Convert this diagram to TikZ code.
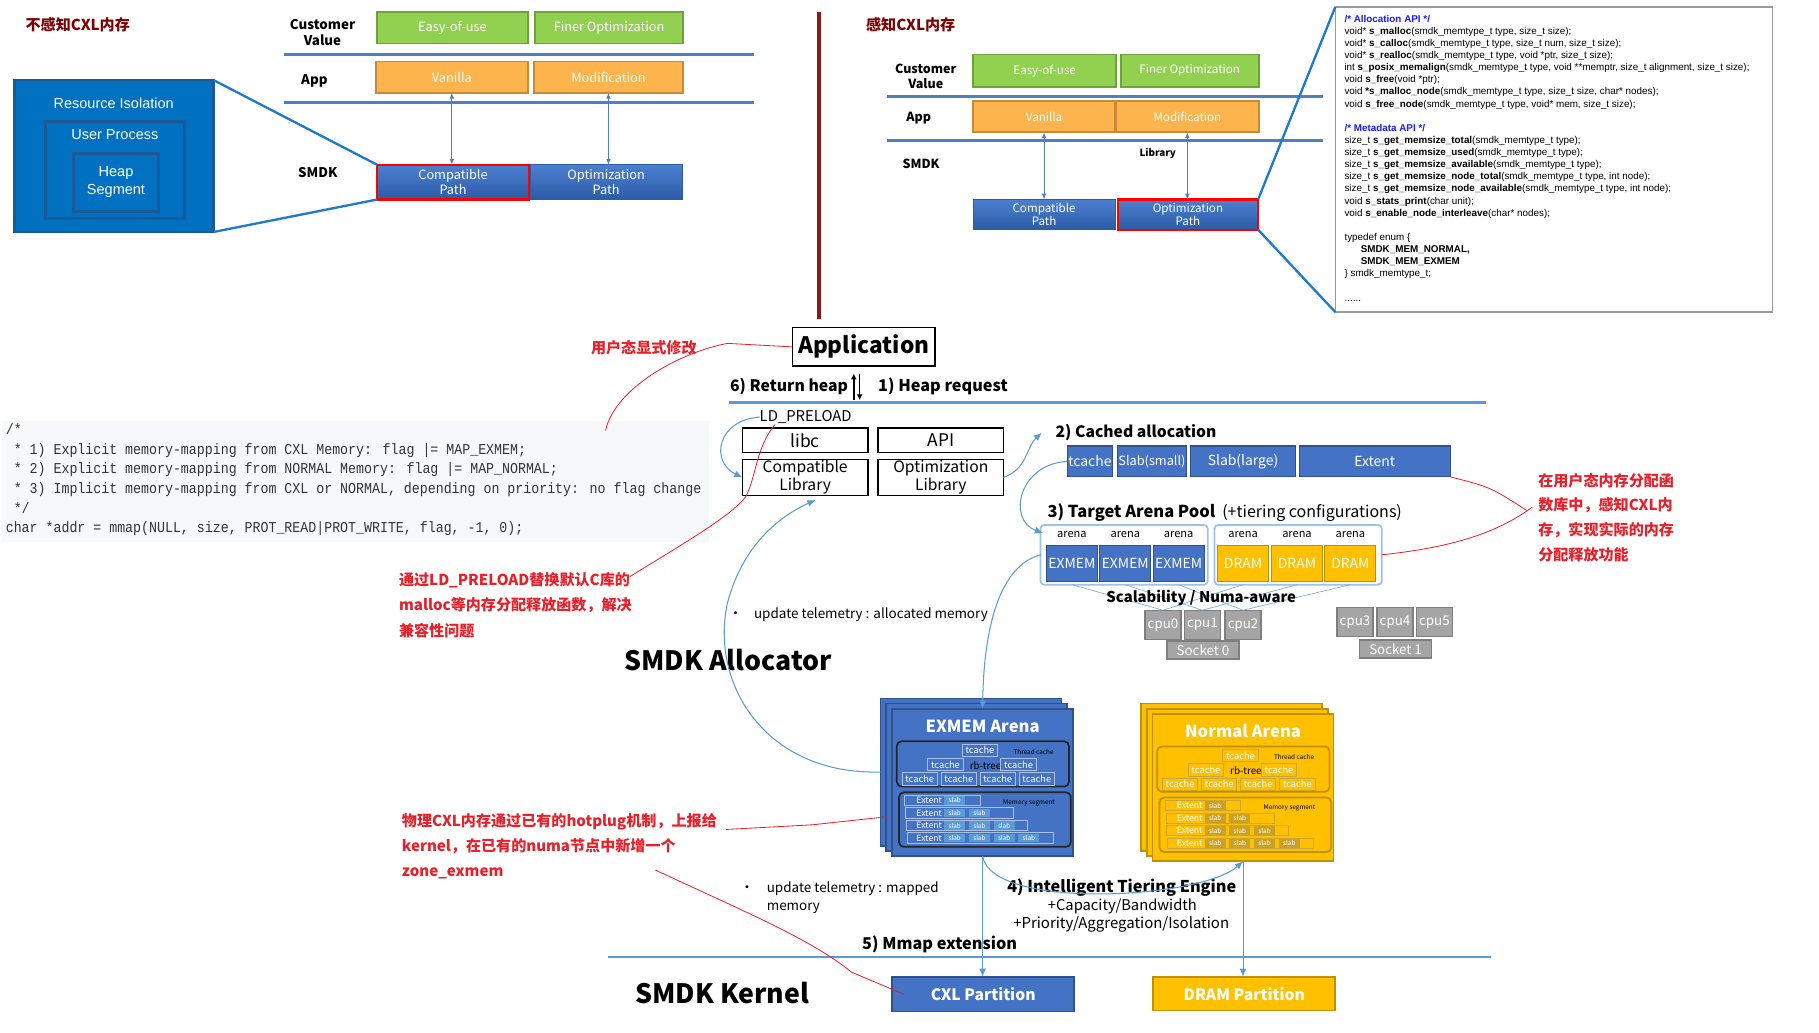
\documentclass[tikz,border=0pt]{standalone}
\usepackage{fontspec}
\setmainfont{Noto Sans CJK SC}
\newfontfamily\arialfont{Liberation Sans}
\newfontfamily\codefont{Liberation Mono}[FakeStretch=0.88]
\usetikzlibrary{positioning,arrows.meta,calc}

\definecolor{cvfill}{HTML}{92D050}
\definecolor{cvline}{HTML}{6EA33C}
\definecolor{appfill}{HTML}{FDB44D}
\definecolor{appline}{HTML}{C98A36}
\definecolor{pathtop}{HTML}{4A80D0}
\definecolor{pathbot}{HTML}{2D5BA6}
\definecolor{isofill}{HTML}{0070C0}
\definecolor{isoline}{HTML}{1B5A99}
\definecolor{sepblue}{HTML}{4F7EC1}
\definecolor{zoomblue}{HTML}{1F7ACF}
\definecolor{titlered}{HTML}{7F0000}
\definecolor{divred}{HTML}{8B1A1A}
\definecolor{annored}{HTML}{E8202A}
\definecolor{apiblue}{HTML}{1A1AFF}
\definecolor{smblue}{HTML}{4472C4}
\definecolor{smblueD}{HTML}{2F528F}
\definecolor{smyel}{HTML}{FFC000}
\definecolor{smyelD}{HTML}{BF9000}
\definecolor{cpugray}{HTML}{A5A5A5}
\definecolor{cpuline}{HTML}{7F7F7F}
\definecolor{flowblue}{HTML}{5B9BD5}
\definecolor{poolline}{HTML}{9DC3E6}
\definecolor{codebg}{HTML}{F6F8FA}
\definecolor{codetext}{HTML}{333333}

\tikzset{
  every node/.style={inner sep=0pt, outer sep=0pt},
  sz/.style 2 args={minimum width=#1pt, minimum height=#2pt},
  cvbox/.style={draw=cvline, fill=cvfill, line width=1.5pt, text=white, font=\fontsize{11}{13}\selectfont},
  appbox/.style={draw=appline, fill=appfill, line width=1.5pt, text=white, font=\fontsize{11}{13}\selectfont},
  pathbox/.style={draw=pathbot, top color=pathtop, bottom color=pathbot, text=white, align=center, font=\fontsize{11}{12.5}\selectfont},
  hotbox/.style={draw=red, line width=2pt},
  layer/.style={font=\bfseries\fontsize{11.5}{13.5}\selectfont, align=center},
  sepline/.style={sepblue, line width=2.5pt},
  zoomline/.style={zoomblue, line width=2pt},
  linkarrow/.style={sepblue, line width=0.8pt, {Latex[length=5pt,width=4pt]}-{Latex[length=5pt,width=4pt]}},
  isobox/.style={draw=isoline, fill=isofill, line width=2.5pt},
  isotext/.style={text=white, font=\arialfont\fontsize{12.5}{15}\selectfont, align=center},
  libbox/.style={draw=black, line width=1.3pt, align=center},
  stagelbl/.style={font=\bfseries\fontsize{14}{16}\selectfont},
  bluebox/.style={fill=smblue, draw=smblueD, line width=1pt, text=white, font=\fontsize{12}{14}\selectfont},
  yelbox/.style={fill=smyel, draw=smyelD, line width=1pt, text=white, font=\fontsize{12}{14}\selectfont},
  cpubox/.style={fill=cpugray, draw=cpuline, line width=1pt, text=white, font=\fontsize{11.5}{13}\selectfont},
  pool/.style={draw=poolline, line width=1.5pt, rounded corners=3pt},
  arenalbl/.style={font=\fontsize{9.5}{11}\selectfont},
  flow/.style={flowblue, line width=0.9pt, -{Latex[length=7pt,width=6pt]}},
  numaline/.style={flowblue!80, line width=0.6pt},
  anno/.style={text=annored, align=left},
  annoline/.style={annored, line width=0.7pt},
  bignm/.style={font=\bfseries\fontsize{23}{27}\selectfont},
  telem/.style={font=\fontsize{11.6}{15.5}\selectfont, align=left},
  arlayer/.style={fill=arfill, draw=arline, line width=1.5pt, sz={156}{127}},
  artitle/.style={text=white, font=\bfseries\fontsize{14.3}{16}\selectfont},
  tcbox/.style={fill=arfill, draw=arlight, line width=0.8pt, text=white, font=\fontsize{8}{9}\selectfont, sz={30.5}{10.5}},
  ingrp/.style={draw=arin, line width=1.5pt, rounded corners=4pt},
  tinytext/.style={font=\fontsize{5.5}{6}\selectfont},
  extrow/.style={fill=arfill, draw=arlight, line width=0.8pt},
  slabbox/.style={fill=arslab, text=white, font=\fontsize{5.5}{6}\selectfont, sz={18}{7.5}},
}

\newcommand{\arenastack}[8]{%
  \begin{scope}[shift={#2}]
    \colorlet{arfill}{#3}\colorlet{arline}{#4}\colorlet{arlight}{#5}\colorlet{arslab}{#6}\colorlet{arin}{#7}
    \node[arlayer] (#1b) at (78,63.5) {};
    \node[arlayer] (#1m) at (83,68) {};
    \node[arlayer] (#1) at (88,72.5) {};
    \node[artitle] (#1t) at (88,24) {#8};
    \node[ingrp, sz={148.5}{39}] (#1tc) at (88.25,56.5) {};
    \node[tinytext] (#1tcl) at (132,46) {Thread cache};
    \node[tcbox] (#1c1) at (85.75,44.75) {tcache};
    \node[tcbox] (#1c2) at (56,57.25) {tcache};
    \node[font=\fontsize{8.5}{10}\selectfont] (#1rb) at (90.5,58) {rb-tree};
    \node[tcbox] (#1c3) at (119,57.25) {tcache};
    \foreach \i/\x in {4/33.75,5/67.5,6/101,7/134.75}
      \node[tcbox] (#1c\i) at (\x,69.5) {tcache};
    \node[ingrp, sz={148}{47}] (#1ms) at (90,104.5) {};
    \node[tinytext] (#1msl) at (128,90) {Memory segment};
    \foreach \k/\e in {1/86,2/115,3/127,4/149} {
      \draw[extrow] (20.3+0.7*\k, 72.7+10.8*\k) rectangle (\e, 81.7+10.8*\k);
      \node[text=white, font=\fontsize{7.5}{8}\selectfont] (#1e\k) at (42, 77.2+10.8*\k) {Extent};
      \foreach \s in {1,...,\k}
        \node[slabbox] (#1s\k\s) at (42.7+21.3*\s, 77.2+10.8*\k) {slab};
    }
  \end{scope}}

\begin{document}
\begin{tikzpicture}[x=1pt,y=-1pt]
\fill[white] (0,0) rectangle (1568,890);
\useasboundingbox (0,0) rectangle (1568,890);

% left panel
\node[font=\bfseries\fontsize{13}{15}\selectfont, text=titlered] (nocxl) at (67,21) {不感知CXL内存};
\node[layer] (cv1) at (278,28) {Customer\\Value};
\node[cvbox, sz={130}{27}] (ease1) at (390,24) {Easy-of-use};
\node[cvbox, sz={128}{27}] (finer1) at (525,24) {Finer Optimization};
\draw[sepline] (245,47) -- (650,47);
\node[layer] (app1) at (271,70) {App};
\node[appbox, sz={131}{27}] (van1) at (389.5,66.5) {Vanilla};
\node[appbox, sz={129}{27}] (mod1) at (524.5,66.5) {Modification};
\draw[sepline] (245,88.5) -- (650,88.5);
\node[layer] (smdk1) at (274,149) {SMDK};
\node[pathbox, hotbox, sz={131}{30}] (cpath1) at (390.5,157) {Compatible\\Path};
\node[pathbox, sz={131}{30}] (opath1) at (522.5,157) {Optimization\\Path};
\draw[linkarrow] (van1.south) -- (van1.south |- cpath1.north);
\draw[linkarrow] (mod1.south) -- (mod1.south |- opath1.north);
\node[isobox, sz={171.5}{131}] (iso) at (98.25,134.5) {};
\node[isobox, sz={120}{83}] (proc) at (99,146.5) {};
\node[isobox, isotext, sz={74}{50}] (heap) at (100,157) {Heap\\Segment};
\node[isotext] (isotitle) at (98,89) {Resource Isolation};
\node[isotext] (proctitle) at (99,116) {User Process};
\draw[zoomline] (iso.north east) -- (cpath1.north west);
\draw[zoomline] (iso.south east) -- (cpath1.south west);

\draw[divred, line width=3pt] (706,10) -- (706,275);

% right panel
\node[font=\bfseries\fontsize{13}{15}\selectfont, text=titlered] (yescxl) at (785,21) {感知CXL内存};
\node[layer, font=\bfseries\fontsize{10.8}{12.5}\selectfont] (cv2) at (798,66) {Customer\\Value};
\node[cvbox, sz={123}{28}, font=\fontsize{10}{12}\selectfont] (ease2) at (900.5,61) {Easy-of-use};
\node[cvbox, sz={119}{28}, font=\fontsize{10}{12}\selectfont] (finer2) at (1025.5,61) {Finer Optimization};
\draw[sepline] (765,83) -- (1140,83);
\node[layer, font=\bfseries\fontsize{10.8}{12.5}\selectfont] (app2) at (792,102) {App};
\node[appbox, sz={122}{27}, font=\fontsize{10}{12}\selectfont] (van2) at (900,100.5) {Vanilla};
\node[appbox, sz={123}{27}, font=\fontsize{10}{12}\selectfont] (mod2) at (1023.5,100.5) {Modification};
\draw[sepline] (765,121) -- (1140,121);
\node[layer, font=\bfseries\fontsize{10.8}{12.5}\selectfont] (smdk2) at (794,141) {SMDK};
\node[font=\bfseries\fontsize{8.5}{10}\selectfont] (lib2) at (998,132) {Library};
\node[pathbox, sz={122}{26}, font=\fontsize{10}{11}\selectfont] (cpath2) at (900,185) {Compatible\\Path};
\node[pathbox, hotbox, sz={121}{26}, font=\fontsize{10}{11}\selectfont] (opath2) at (1024,185) {Optimization\\Path};
\draw[linkarrow] (van2.south) -- (van2.south |- cpath2.north);
\draw[linkarrow] (mod2.south) -- (mod2.south |- opath2.north);
\node[draw=gray!80, line width=1pt, sz={377}{263}, anchor=north west] (apibox) at (1151,6) {};
\draw[zoomline] (opath2.north east) -- (apibox.north west);
\draw[zoomline] (opath2.south east) -- (apibox.south west);
\node[anchor=north west, align=left, font=\arialfont\fontsize{8.5}{10.45}\selectfont] (apitext) at (1159,13) {%
\textcolor{apiblue}{\bfseries /* Allocation API */}\\
void* \textbf{s\_malloc}(smdk\_memtype\_t type, size\_t size);\\
void* \textbf{s\_calloc}(smdk\_memtype\_t type, size\_t num, size\_t size);\\
void* \textbf{s\_realloc}(smdk\_memtype\_t type, void *ptr, size\_t size);\\
int \textbf{s\_posix\_memalign}(smdk\_memtype\_t type, void **memptr, size\_t alignment, size\_t size);\\
void \textbf{s\_free}(void *ptr);\\
void \textbf{*s\_malloc\_node}(smdk\_memtype\_t type, size\_t size, char* nodes);\\
void \textbf{s\_free\_node}(smdk\_memtype\_t type, void* mem, size\_t size);\\[10.45pt]
\textcolor{apiblue}{\bfseries /* Metadata API */}\\
size\_t \textbf{s\_get\_memsize\_total}(smdk\_memtype\_t type);\\
size\_t \textbf{s\_get\_memsize\_used}(smdk\_memtype\_t type);\\
size\_t \textbf{s\_get\_memsize\_available}(smdk\_memtype\_t type);\\
size\_t \textbf{s\_get\_memsize\_node\_total}(smdk\_memtype\_t type, int node);\\
size\_t \textbf{s\_get\_memsize\_node\_available}(smdk\_memtype\_t type, int node);\\
void \textbf{s\_stats\_print}(char unit);\\
void \textbf{s\_enable\_node\_interleave}(char* nodes);\\[10.45pt]
typedef enum \{\\
\hspace*{14pt}\textbf{SMDK\_MEM\_NORMAL,}\\
\hspace*{14pt}\textbf{SMDK\_MEM\_EXMEM}\\
\} smdk\_memtype\_t;\\[10.45pt]
......};

% allocator
\node[libbox, sz={123}{33}, font=\bfseries\fontsize{19.5}{22}\selectfont] (app) at (744.5,299) {Application};
\node[stagelbl, font=\bfseries\fontsize{13.6}{16}\selectfont, anchor=east] (ret) at (731,333) {6) Return heap};
\node[stagelbl, anchor=west] (req) at (757,333) {1) Heap request};
\draw[line width=1.5pt, -{Latex[length=5pt,width=5pt]}] ($(ret.east)+(5,12)$) -- ++(0,-23);
\draw[line width=1.5pt, -{Latex[length=5pt,width=5pt]}] ($(ret.east)+(10,-11)$) -- ++(0,23);
\draw[flowblue, line width=2pt] (628,347) -- (1281,347);
\node[font=\fontsize{12.8}{15}\selectfont] (ldp) at (694.5,359.5) {LD\_PRELOAD};
\node[libbox, sz={108}{21}, font=\fontsize{15}{17}\selectfont] (libc) at (694,379.5) {libc};
\node[libbox, sz={108}{21}, font=\fontsize{15}{17}\selectfont] (api) at (811,379.5) {API};
\node[libbox, sz={108}{31}, font=\fontsize{13.5}{15.5}\selectfont] (complib) at (694,411.5) {Compatible\\Library};
\node[libbox, sz={108}{31}, font=\fontsize{13.5}{15.5}\selectfont] (optlib) at (811,411.5) {Optimization\\Library};

\node[stagelbl, font=\bfseries\fontsize{13.5}{16}\selectfont, anchor=west] (cached) at (910,373) {2) Cached allocation};
\node[bluebox, sz={39}{26.5}] (tcache) at (939.5,397.75) {tcache};
\node[bluebox, sz={60}{26.5}, font=\fontsize{11}{13}\selectfont] (slabsm) at (993,397.75) {Slab(small)};
\node[bluebox, sz={91}{26.5}] (slablg) at (1071.5,397.75) {Slab(large)};
\node[bluebox, sz={130}{26.5}] (extent) at (1185,397.75) {Extent};

\node[stagelbl, font=\bfseries\fontsize{14.2}{16}\selectfont, anchor=west] (tap) at (903,442) {3) Target Arena Pool};
\node[anchor=base west, font=\fontsize{13.8}{16}\selectfont] (tierc) at ($(tap.base east)+(6,0)$) {(+tiering configurations)};
\node[pool, sz={144}{51.5}] (poolx) at (969,478.25) {};
\node[pool, sz={144}{51.5}] (poold) at (1119,478.25) {};
\foreach \i/\x in {1/924,2/970,3/1016} {
  \node[arenalbl] (lx\i) at (\x,461) {arena};
  \node[bluebox, sz={44}{31}] (ex\i) at (\x,485.5) {EXMEM};
}
\foreach \i/\x in {1/1071.5,2/1118,3/1164} {
  \node[arenalbl] (ld\i) at (\x,461) {arena};
  \node[yelbox, sz={44}{31}] (dr\i) at (\x,485.5) {DRAM};
}
\foreach \c/\x in {0/1002.5,1/1036.5,2/1071.5}
  \node[cpubox, sz={31}{25}] (cpu\c) at (\x,538.5) {cpu\c};
\foreach \c/\x in {3/1168,4/1202.5,5/1236.5}
  \node[cpubox, sz={31}{25}] (cpu\c) at (\x,536) {cpu\c};
\node[cpubox, sz={62}{15.5}] (sock0) at (1037,560.25) {Socket 0};
\node[cpubox, sz={62}{15.5}] (sock1) at (1203,559.5) {Socket 1};
\foreach \i/\c in {1/0,2/1,3/2} {
  \draw[numaline] (ex\i.south |- poolx.south) -- (cpu\c.north);
  \draw[numaline] (dr\i.south |- poold.south) -- (cpu\c.north);
}
\node[font=\bfseries\fontsize{12.8}{15}\selectfont] (scal) at (1035.5,515.5) {Scalability / Numa-aware};

\node[font=\fontsize{12}{14}\selectfont] (bul1) at (634,530) {•};
\node[telem, anchor=west] (tel1) at (650,530) {update telemetry : allocated memory};
\node[bignm] (alloc) at (627.5,569) {SMDK Allocator};

\arenastack{exmem}{(759,602)}{smblue}{smblueD}{smblue!45}{flowblue}{black!85}{EXMEM Arena}
\arenastack{normal}{(983.5,606.5)}{smyel}{smyelD}{smyelD!80}{smyelD!85!white}{smyelD}{Normal Arena}

\node[font=\fontsize{12}{14}\selectfont] (bul2) at (644,766) {•};
\node[telem, anchor=west] (tel2) at (661,774) {update telemetry : mapped\\memory};
\node[stagelbl] (tier) at (967,765.5) {4) Intelligent Tiering Engine};
\node[font=\fontsize{12.7}{15}\selectfont] (capa) at (967.5,781.5) {+Capacity/Bandwidth};
\node[font=\fontsize{12.9}{15}\selectfont] (prio) at (966.5,797) {+Priority/Aggregation/Isolation};
\node[stagelbl] (mmapx) at (810,814) {5) Mmap extension};
\draw[flowblue, line width=2pt] (524,825) -- (1285,825);
\node[bignm] (kern) at (622.5,856) {SMDK Kernel};
\node[bluebox, sz={157}{30}, line width=1.5pt, font=\bfseries\fontsize{13.5}{16}\selectfont] (cxl) at (847.5,857) {CXL Partition};
\node[yelbox, sz={157}{29}, line width=1.5pt, font=\bfseries\fontsize{13.5}{16}\selectfont] (dram) at (1072.5,856.5) {DRAM Partition};

\draw[flow] (ldp.west) .. controls (618,362) and (612,398) .. (complib.west);
\draw[flow] (optlib.east) .. controls (885,405) and (885,385) .. ($(cached.west)+(-12,0)$);
\draw[flow] (tcache.west) .. controls (878,400) and (868,448) .. ($(poolx.north west)+(2,7)$);
\draw[flow] (poolx.west) .. controls (860,488) and (848,545) .. (exmem.north);
\draw[flow] (exmemb.west) .. controls (660,668) and (612,590) .. (627,520) .. controls (640,470) and (672,445) .. ($(complib.south)+(9,4)$);
\draw[flow] (exmem.south) -- (exmem.south |- cxl.north);
\draw[flow] (exmem.south) .. controls (855,785) and (1035,775) .. (normal.south);
\draw[flow] (normal.south) -- (normal.south |- dram.north);

% code and notes
\node[fill=codebg, sz={609}{104}, anchor=north west] (codebg) at (2,363) {};
\node[anchor=north west, align=left, text=codetext, font=\codefont\fontsize{13}{17}\selectfont] (mmapcode) at (5,365) {%
/*\\
\ * 1) Explicit memory-mapping from CXL Memory: flag |= MAP\_EXMEM;\\
\ * 2) Explicit memory-mapping from NORMAL Memory: flag |= MAP\_NORMAL;\\
\ * 3) Implicit memory-mapping from CXL or NORMAL, depending on priority: no flag change\\
\ */\\
char *addr = mmap(NULL, size, PROT\_READ|PROT\_WRITE, flag, -1, 0);};

\node[anno, font=\bfseries\fontsize{13}{15}\selectfont] (an1) at (555,300) {用户态显式修改};
\node[anno, anchor=west, font=\bfseries\fontsize{13}{22}\selectfont] (an2) at (344,521.5) {通过LD\_PRELOAD替换默认C库的\\malloc等内存分配释放函数，解决\\兼容性问题};
\node[anno, anchor=west, font=\bfseries\fontsize{13}{21.2}\selectfont] (an3) at (1326,446) {在用户态内存分配函\\数库中，感知CXL内\\存，实现实际的内存\\分配释放功能};
\node[anno, anchor=west, font=\bfseries\fontsize{13}{21.5}\selectfont] (an4) at (346.5,729.5) {物理CXL内存通过已有的hotplug机制，上报给\\kernel，在已有的numa节点中新增一个\\zone\_exmem};
\draw[annoline] (app.west) -- (627,296) .. controls (585,304) and (530,335) .. (522,371);
\draw[annoline] (543,497) .. controls (590,468) and (630,445) .. (643,428) .. controls (652,410) and (652,385) .. (668,366);
\draw[annoline] (extent.south east) .. controls (1285,420) .. (1316,440);
\draw[annoline] (1321,437) .. controls (1290,460) and (1250,472) .. (poold.east);
\draw[annoline] (626,715) -- (700,711) -- ($(exmemb.west)+(6,38.5)$);
\draw[annoline] (565,750) .. controls (640,785) and (700,810) .. (734,838) -- ($(cxl.west)+(10,0)$);
\end{tikzpicture}
\end{document}
